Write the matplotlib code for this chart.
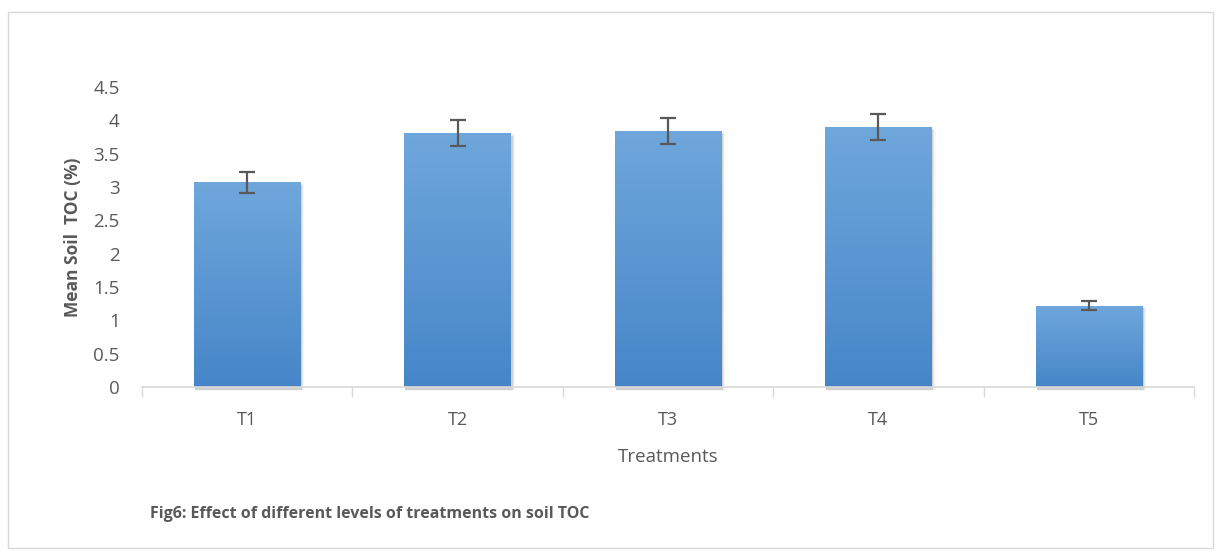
import numpy as np
import matplotlib.pyplot as plt
from matplotlib.patches import Rectangle
from matplotlib.colors import LinearSegmentedColormap

# data
treatments = ['T1', 'T2', 'T3', 'T4', 'T5']
toc_mean = [3.07, 3.81, 3.84, 3.90, 1.22]
toc_err = [0.16, 0.19, 0.19, 0.20, 0.07]
yticks = [0, 0.5, 1, 1.5, 2, 2.5, 3, 3.5, 4, 4.5]

plt.rcParams['font.family'] = ['Open Sans', 'DejaVu Sans']
txt = '#595959'

fig = plt.figure(figsize=(12.19, 5.53), dpi=100)
# outer chart border
fig.patches.append(Rectangle((8 / 1219, 5 / 553), 1205 / 1219, 536 / 553,
                             transform=fig.transFigure, fill=False,
                             edgecolor='#d9d9d9', linewidth=1))

ax = fig.add_axes([142 / 1219, 166 / 553, 1052 / 1219, 300 / 553])
x = np.arange(len(treatments))
width = 0.505

# gradient fill: lighter at top, darker at bottom
grad = LinearSegmentedColormap.from_list('g', ['#4686c8', '#6fa7dc'])
bars = ax.bar(x, toc_mean, width, color='none', zorder=2)
for b in bars:
    # soft shadow, offset right/down
    for k, a in enumerate([0.10, 0.06, 0.03]):
        d = 0.005 * (k + 1)
        ax.add_patch(Rectangle((b.get_x() + 0.004, -0.03 - d * 2),
                               b.get_width() + d, b.get_height() - 0.02 + d * 4,
                               facecolor='#000000', alpha=a, edgecolor='none',
                               zorder=1, clip_on=False))
    im = ax.imshow(np.linspace(0, 1, 256).reshape(-1, 1), cmap=grad,
                   aspect='auto', origin='lower',
                   extent=[b.get_x(), b.get_x() + b.get_width(), 0, b.get_height()],
                   zorder=2)
    im.set_clip_path(b)

ax.errorbar(x, toc_mean, yerr=toc_err, fmt='none', ecolor='#595959',
            elinewidth=1.6, capsize=6, capthick=1.6, zorder=3)

ax.set_xlim(-0.5, len(treatments) - 0.5)
ax.set_ylim(0, 4.5)
ax.set_yticks(yticks)
ax.set_yticklabels([f'{v:g}' for v in yticks])
ax.set_xticks(x)
ax.set_xticklabels(treatments)
ax.set_xticks(np.arange(-0.5, len(treatments)), minor=True)
ax.tick_params(axis='x', which='major', length=0, pad=17, labelsize=13, colors=txt)
ax.tick_params(axis='x', which='minor', length=7, color='#d9d9d9', width=1)
ax.tick_params(axis='y', length=0, pad=16, labelsize=13.5, colors=txt)
for s in ['top', 'right', 'left']:
    ax.spines[s].set_visible(False)
ax.spines['bottom'].set_color('#d9d9d9')
ax.spines['bottom'].set_linewidth(1.2)
ax.spines['bottom'].set_zorder(4)

ax.set_xlabel('Treatments', fontsize=13.5, color=txt, labelpad=14)
ax.set_ylabel('Mean Soil  TOC (%)', fontsize=12.5, fontweight='bold', color=txt, labelpad=8)

fig.text(150 / 1219, 1 - 514 / 553,
         'Fig6: Effect of different levels of treatments on soil TOC',
         fontsize=11.5, fontweight='bold', color=txt, va='center')

fig.savefig('out.png', dpi=100)
